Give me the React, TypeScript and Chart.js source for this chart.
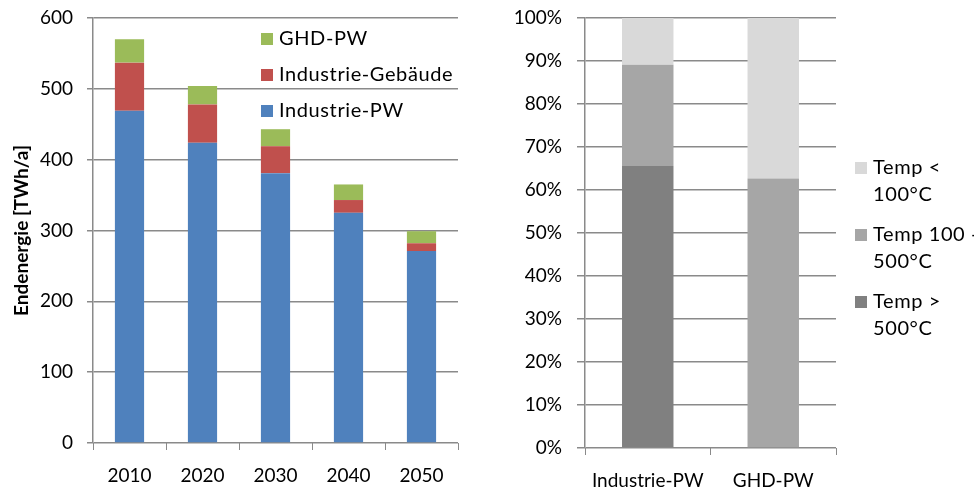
import React, { useEffect, useRef } from 'react';
import { Chart, registerables } from 'chart.js';

Chart.register(...registerables);

// ---- Data: left chart (Endenergie, TWh/a) ----
const years = ['2010', '2020', '2030', '2040', '2050'];
const industriePW = [469, 424, 381, 325, 271];
const industrieGebaeude = [68, 54, 38, 18, 11];
const ghdPW = [33, 26, 24, 22, 17];
const energyMax = 600;
const energyStep = 100;

// ---- Data: right chart (share by temperature level, %) ----
const sectors = ['Industrie-PW', 'GHD-PW'];
const tempAbove500 = [65.6, 0];
const temp100to500 = [23.5, 62.7];
const tempBelow100 = [10.9, 37.3];
const shareMax = 100;
const shareStep = 10;

const leftLegend = [
  { color: '#9bbb59', lines: ['GHD-PW'] },
  { color: '#c0504d', lines: ['Industrie-Gebäude'] },
  { color: '#4f81bd', lines: ['Industrie-PW'] },
];
const rightLegend = [
  { color: '#d9d9d9', lines: ['Temp <', '100°C'] },
  { color: '#a6a6a6', lines: ['Temp 100 -', '500°C'] },
  { color: '#808080', lines: ['Temp >', '500°C'] },
];

const FONT = 'Lato, "Open Sans", "Noto Sans", sans-serif';
const GRID = '#8a8a8a';

type LegendItem = { color: string; lines: string[] };

function makeLegendPlugin(
  id: string,
  items: LegendItem[],
  x: number,
  y0: number,
  rowGap: number,
  lineGap: number,
  size: number,
  box: number,
  textGap: number,
  spacing: number
) {
  return {
    id,
    afterDraw(chart: any) {
      const ctx = chart.ctx;
      ctx.save();
      ctx.font = `${size}px ${FONT}`;
      try {
        (ctx as any).letterSpacing = `${spacing}px`;
      } catch (e) {}
      ctx.textBaseline = 'middle';
      ctx.textAlign = 'left';
      items.forEach((it, i) => {
        const cy = y0 + i * rowGap;
        ctx.fillStyle = it.color;
        ctx.fillRect(x, cy - box / 2, box, box);
        ctx.fillStyle = '#000';
        it.lines.forEach((ln, j) => {
          ctx.fillText(ln, x + box + textGap, cy + j * lineGap);
        });
      });
      ctx.restore();
    },
  };
}

const fixY = (width: number) => (s: any) => {
  s.width = width;
  s.paddingTop = 0;
  s.paddingBottom = 0;
};

export default function App() {
  const leftRef = useRef<HTMLCanvasElement | null>(null);
  const rightRef = useRef<HTMLCanvasElement | null>(null);

  useEffect(() => {
    const left = new Chart(leftRef.current as HTMLCanvasElement, {
      type: 'bar',
      data: {
        labels: years,
        datasets: [
          { label: 'Industrie-PW', data: industriePW, backgroundColor: '#4f81bd' },
          { label: 'Industrie-Gebäude', data: industrieGebaeude, backgroundColor: '#c0504d' },
          { label: 'GHD-PW', data: ghdPW, backgroundColor: '#9bbb59' },
        ],
      },
      options: {
        animation: false,
        responsive: false,
        devicePixelRatio: 1,
        layout: { padding: { left: 0, top: 18, right: 22, bottom: 0 } },
        datasets: { bar: { barPercentage: 0.4, categoryPercentage: 1, borderWidth: 0 } },
        plugins: { legend: { display: false }, tooltip: { enabled: false } },
        scales: {
          x: {
            stacked: true,
            grid: {
              display: true,
              drawOnChartArea: false,
              drawTicks: true,
              tickLength: 7,
              color: GRID,
              offset: true,
            },
            border: { display: false },
            ticks: { color: '#000', font: { family: FONT, size: 19 }, padding: 14 },
            afterFit: (s: any) => {
              s.height = 45;
              s.paddingLeft = 0;
              s.paddingRight = 0;
            },
          },
          y: {
            stacked: true,
            min: 0,
            max: energyMax,
            ticks: { stepSize: energyStep, color: '#000', font: { family: FONT, size: 19 }, padding: 14 },
            grid: { color: GRID, tickLength: 6, lineWidth: 1.5 },
            border: { display: true, color: GRID, width: 1.5 },
            title: {
              display: true,
              text: 'Endenergie [TWh/a]',
              color: '#000',
              font: { family: FONT, size: 19, weight: 'bold' },
              padding: { top: 10, bottom: 0 },
            },
            afterFit: fixY(93),
          },
        },
      },
      plugins: [makeLegendPlugin('leftLegend', leftLegend, 261, 39, 36, 0, 20, 12, 6, 0.6)],
    } as any);

    const right = new Chart(rightRef.current as HTMLCanvasElement, {
      type: 'bar',
      data: {
        labels: sectors,
        datasets: [
          { label: 'Temp > 500°C', data: tempAbove500, backgroundColor: '#808080' },
          { label: 'Temp 100 - 500°C', data: temp100to500, backgroundColor: '#a6a6a6' },
          { label: 'Temp < 100°C', data: tempBelow100, backgroundColor: '#d9d9d9' },
        ],
      },
      options: {
        animation: false,
        responsive: false,
        devicePixelRatio: 1,
        layout: { padding: { left: 0, top: 18, right: 494 - 356, bottom: 0 } },
        datasets: { bar: { barPercentage: 0.41, categoryPercentage: 1, borderWidth: 0 } },
        plugins: { legend: { display: false }, tooltip: { enabled: false } },
        scales: {
          x: {
            stacked: true,
            grid: {
              display: true,
              drawOnChartArea: false,
              drawTicks: true,
              tickLength: 7,
              color: GRID,
              offset: true,
            },
            border: { display: false },
            ticks: { color: '#000', font: { family: FONT, size: 19 }, padding: 14 },
            afterFit: (s: any) => {
              s.height = 40;
              s.paddingLeft = 0;
              s.paddingRight = 0;
            },
          },
          y: {
            stacked: true,
            min: 0,
            max: shareMax,
            ticks: {
              stepSize: shareStep,
              color: '#000',
              font: { family: FONT, size: 19 },
              padding: 15,
              callback: (v: any) => `${v}%`,
            },
            grid: { color: GRID, tickLength: 8, lineWidth: 1.5 },
            border: { display: true, color: GRID, width: 1.5 },
            afterFit: fixY(105),
          },
        },
      },
      plugins: [makeLegendPlugin('rightLegend', rightLegend, 375, 168, 67, 27, 20, 12, 6, 0.6)],
    } as any);

    return () => {
      left.destroy();
      right.destroy();
    };
  }, []);

  return (
    <div style={{ position: 'fixed', left: 0, top: 0, width: 974, height: 488, background: '#fff' }}>
      <canvas ref={leftRef} width={480} height={488} style={{ position: 'absolute', left: 0, top: 0 }} />
      <canvas ref={rightRef} width={494} height={488} style={{ position: 'absolute', left: 480, top: 0 }} />
    </div>
  );
}
